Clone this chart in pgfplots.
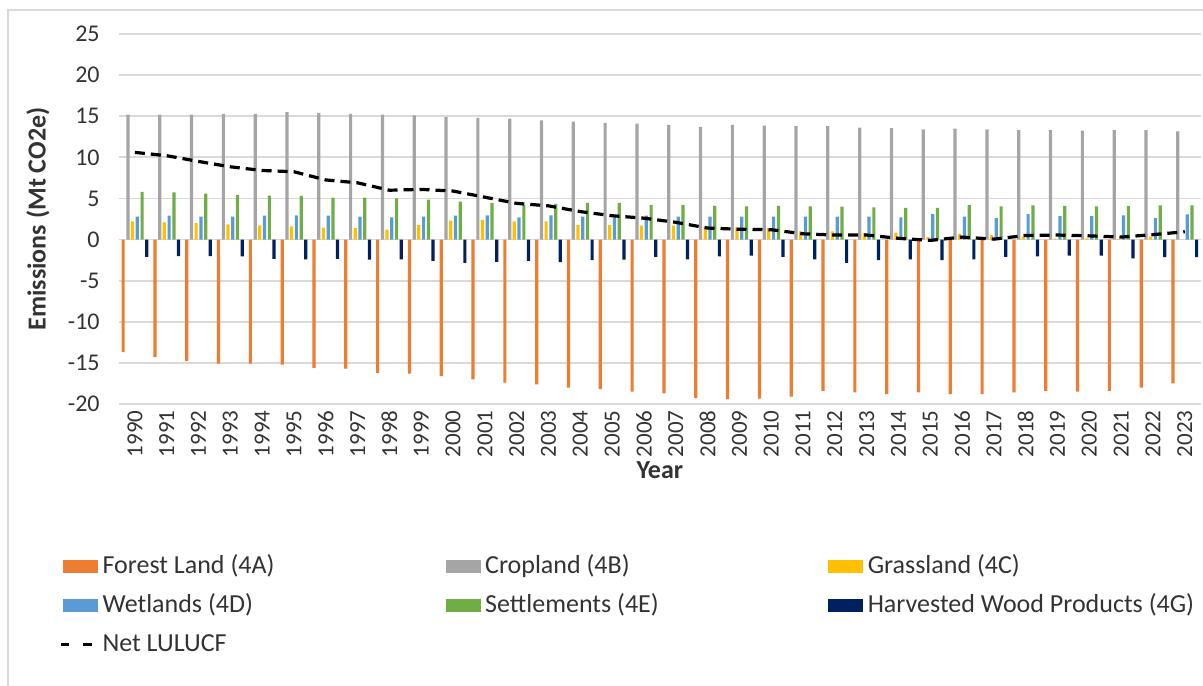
\documentclass[border=0pt]{standalone}
\usepackage{fontspec}
\setmainfont{Carlito}
\usepackage{pgfplots}
\pgfplotsset{compat=1.18}
\usepackage{pgfplotstable}
\definecolor{cForest}{HTML}{ED7D31}
\definecolor{cCrop}{HTML}{A5A5A5}
\definecolor{cGrass}{HTML}{FFC000}
\definecolor{cWet}{HTML}{5B9BD5}
\definecolor{cSettle}{HTML}{70AD47}
\definecolor{cHWP}{HTML}{002060}
\definecolor{gridgray}{HTML}{D9D9D9}
\definecolor{textgray}{HTML}{333333}
\pgfplotstableread{
x forest crop grass wet settle hwp net
0 -13.7 15.2 2.2 2.8 5.8 -2.1 10.6
1 -14.3 15.2 2.1 2.9 5.75 -2.0 10.2
2 -14.8 15.2 2.0 2.8 5.6 -2.0 9.5
3 -15.1 15.3 1.85 2.8 5.45 -2.05 8.85
4 -15.1 15.3 1.7 2.9 5.35 -2.35 8.4
5 -15.2 15.5 1.6 2.95 5.3 -2.4 8.25
6 -15.6 15.4 1.45 2.9 5.1 -2.35 7.25
7 -15.7 15.3 1.4 2.8 5.1 -2.45 6.9
8 -16.2 15.2 1.2 2.7 5.0 -2.4 6.0
9 -16.3 15.1 1.8 2.8 4.85 -2.6 6.1
10 -16.6 14.9 2.3 2.9 4.6 -2.85 5.9
11 -17.0 14.8 2.4 2.95 4.45 -2.7 5.15
12 -17.4 14.7 2.2 2.7 4.2 -2.6 4.4
13 -17.6 14.5 2.2 2.95 4.35 -2.75 4.1
14 -18.0 14.35 1.8 2.8 4.45 -2.5 3.4
15 -18.2 14.2 1.8 2.7 4.45 -2.45 2.9
16 -18.5 14.1 1.7 2.9 4.2 -2.1 2.6
17 -18.7 13.95 1.7 2.8 4.2 -2.4 2.1
18 -19.3 13.7 1.55 2.8 4.1 -2.05 1.4
19 -19.4 13.95 1.5 2.8 4.05 -1.95 1.25
20 -19.35 13.87 1.4 2.8 4.1 -2.1 1.2
21 -19.1 13.8 1.0 2.8 4.05 -2.4 0.7
22 -18.4 13.8 1.0 2.8 4.0 -2.85 0.55
23 -18.6 13.6 0.8 2.8 3.9 -2.5 0.55
24 -18.8 13.55 0.85 2.7 3.85 -2.4 0.15
25 -18.6 13.4 0.3 3.1 3.85 -2.5 -0.1
26 -18.8 13.5 0.7 2.8 4.2 -2.4 0.3
27 -18.8 13.4 0.55 2.6 4.05 -2.1 0.05
28 -18.6 13.3 0.35 3.1 4.15 -2.05 0.5
29 -18.4 13.3 0.1 2.85 4.1 -1.95 0.55
30 -18.5 13.25 0.15 2.85 4.05 -1.95 0.45
31 -18.4 13.3 0.05 2.95 4.1 -2.3 0.3
32 -18.0 13.3 0.35 2.6 4.15 -2.15 0.6
33 -17.5 13.15 0.0 3.05 4.15 -2.15 0.95
}\data
\pgfplotsset{
  barleg/.style={legend image code/.code={\fill[##1] (0bp,-3.2bp) rectangle (17.5bp,3.2bp);}},
  mybar/.style={ybar, bar width=1.6bp, draw=none, fill=#1, barleg},
}
\begin{document}
\fontsize{12bp}{14.4bp}\selectfont
\begin{tikzpicture}
\path[use as bounding box] (-59.5bp,-141bp) rectangle (542bp,202bp);
\draw[gridgray, line width=0.75bp] (-55.5bp,-300bp) -- (-55.5bp,197bp) -- (700bp,197bp);
\begin{axis}[
  at={(0,0)}, anchor=south west, scale only axis,
  width=540.85bp, height=185bp,
  xmin=-0.5, xmax=33.5, ymin=-20, ymax=25,
  xtick={0,...,33},
  xticklabels={1990,1991,1992,1993,1994,1995,1996,1997,1998,1999,2000,2001,2002,2003,2004,2005,2006,2007,2008,2009,2010,2011,2012,2013,2014,2015,2016,2017,2018,2019,2020,2021,2022,2023},
  ytick={-20,-15,-10,-5,0,5,10,15,20,25},
  yticklabels={-20,-15,-10,-5,0,5,10,15,20,25},
  ymajorgrids, grid style={draw=gridgray, line width=0.9bp},
  axis line style={draw=none}, major tick length=0pt,
  tick label style={color=textgray, inner sep=0pt},
  xticklabel style={rotate=90, anchor=east, font=\fontsize{11.5bp}{13bp}\selectfont},
  xticklabel shift=3bp,
  yticklabel shift=9.5bp,
  xlabel={\bfseries Year},
  xlabel style={at={(axis description cs:0.5,-0.1800)}, anchor=center, color=textgray, font=\fontsize{13bp}{15.6bp}\selectfont},
  ylabel={\bfseries Emissions (Mt CO2e)},
  ylabel style={at={(axis description cs:-0.0749,0.5)}, anchor=center, color=textgray, font=\fontsize{13bp}{15.6bp}\selectfont},
  legend columns=3,
  legend cell align=left,
  legend style={at={(axis description cs:-0.0557,-0.408)}, anchor=north west,
    draw=none, fill=none, inner sep=0pt, row sep=8.0bp,
    font=\fontsize{13bp}{15.6bp}\selectfont,
    nodes={inner sep=0pt, text height=9bp, text depth=2.5bp, text=textgray},
    /tikz/every odd column/.style={column sep=2.2bp},
    /tikz/every even column/.style={column sep=0pt}},
]
\addplot[mybar=cForest, bar shift=-5.9bp] table[x=x, y=forest] {\data};
\addlegendentry{\makebox[171.6bp][l]{Forest Land (4A)}}
\addplot[mybar=cCrop, bar shift=-3.5bp] table[x=x, y=crop] {\data};
\addlegendentry{\makebox[171.6bp][l]{Cropland (4B)}}
\addplot[mybar=cGrass, bar shift=-1.2bp] table[x=x, y=grass] {\data};
\addlegendentry{\makebox[171.6bp][l]{Grassland (4C)}}
\addplot[mybar=cWet, bar shift=1.2bp] table[x=x, y=wet] {\data};
\addlegendentry{Wetlands (4D)}
\addplot[mybar=cSettle, bar shift=3.6bp] table[x=x, y=settle] {\data};
\addlegendentry{Settlements (4E)}
\addplot[mybar=cHWP, bar shift=5.9bp] table[x=x, y=hwp] {\data};
\addlegendentry{Harvested Wood Products (4G)}
\addplot[black, line width=1.6bp, dash pattern=on 5bp off 3bp, mark=none,
  legend image code/.code={\draw[black, line width=1.6bp, dash pattern=on 4.3bp off 7bp] (-1.2bp,0bp) -- (15.5bp,0bp);}]
  table[x=x, y=net] {\data};
\addlegendentry{Net LULUCF}
\end{axis}
\end{tikzpicture}
\end{document}
